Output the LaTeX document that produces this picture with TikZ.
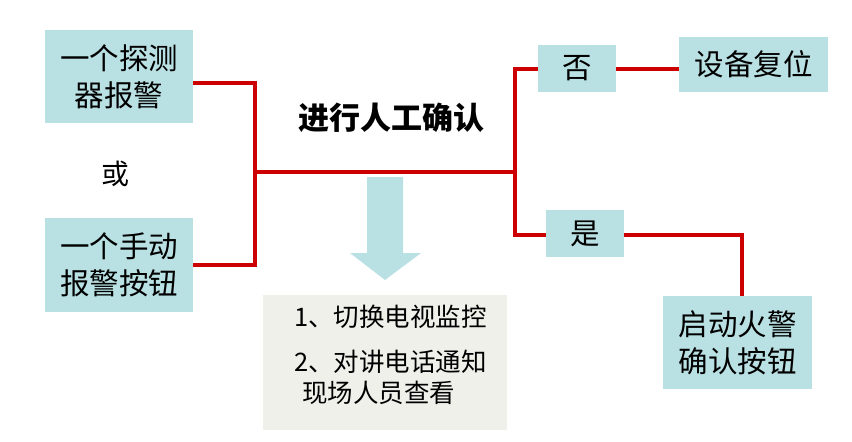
\documentclass[tikz,border=0pt]{standalone}
\usepackage{fontspec}
\setmainfont{Noto Sans CJK SC}
\usepackage{xcolor}
\usetikzlibrary{calc}
\definecolor{boxCyan}{RGB}{185,224,227}
\definecolor{lineRed}{RGB}{204,0,0}
\definecolor{noteGray}{RGB}{240,240,234}
\newcommand{\BoxFont}{\fontsize{29.5}{37}\selectfont}
\newcommand{\NoteFont}{\fontsize{25.5}{31}\selectfont}
\tikzset{
  alarmBox/.style={fill=boxCyan,inner sep=0pt,align=center,font=\BoxFont},
  redLine/.style={draw=lineRed,line width=4pt},
}

\begin{document}
\begin{tikzpicture}[x=1pt,y=-1pt]
\useasboundingbox (0,0) rectangle (852,442);
% left side: alarm sources
\node[alarmBox,minimum width=148pt,minimum height=93pt] (det) at (119,76.5) {一个探测\\器报警};
\node[alarmBox,minimum width=148pt,minimum height=94pt] (btn) at (119,265) {一个手动\\报警按钮};
\node[font=\fontsize{28}{30}\selectfont] (orTxt) at (115,174) {或};
\coordinate (joinL) at (255,172);
\coordinate (joinR) at (515,172);
\draw[redLine] ([yshift=-6pt]det.east) -| (joinL) |- (btn.east);
\draw[redLine] (joinL) -- (joinR);
\node[font=\bfseries\fontsize{31}{34}\selectfont] (check) at (391,118) {进行人工确认};
% right side: result of the check
\node[alarmBox,minimum width=78pt,minimum height=47pt] (no) at (577,68.5) {否};
\node[alarmBox,minimum width=149pt,minimum height=55pt] (reset) at (753.5,64.5) {设备复位};
\node[alarmBox,minimum width=78pt,minimum height=47pt] (yes) at (585,233.5) {是};
\node[alarmBox,minimum width=149pt,minimum height=93pt] (confirm) at (737.5,342.5) {启动火警\\确认按钮};
\draw[redLine] (no.west) -| (joinR) |- ([yshift=-1.5pt]yes.west);
\draw[redLine] (no.east) -- (reset.west |- no.east);
\draw[redLine] ([yshift=-1.5pt]yes.east) -| ([xshift=4.5pt]confirm.north);
% arrow and note below
\fill[boxCyan] (367,177) -- (403,177) -- (403,253) -- (421,253) -- (385,280) -- (350,253) -- (367,253) -- cycle;
\node[fill=noteGray,minimum width=244pt,minimum height=135pt,inner sep=0pt] (note) at (385,362.5) {};
\node[font=\NoteFont,align=left,inner sep=0pt,anchor=north west] (noteTxt) at (294,305)
  {1、切换电视监控\\[14pt]2、对讲电话通知\\\hspace*{8pt}现场人员查看};
\end{tikzpicture}
\end{document}
